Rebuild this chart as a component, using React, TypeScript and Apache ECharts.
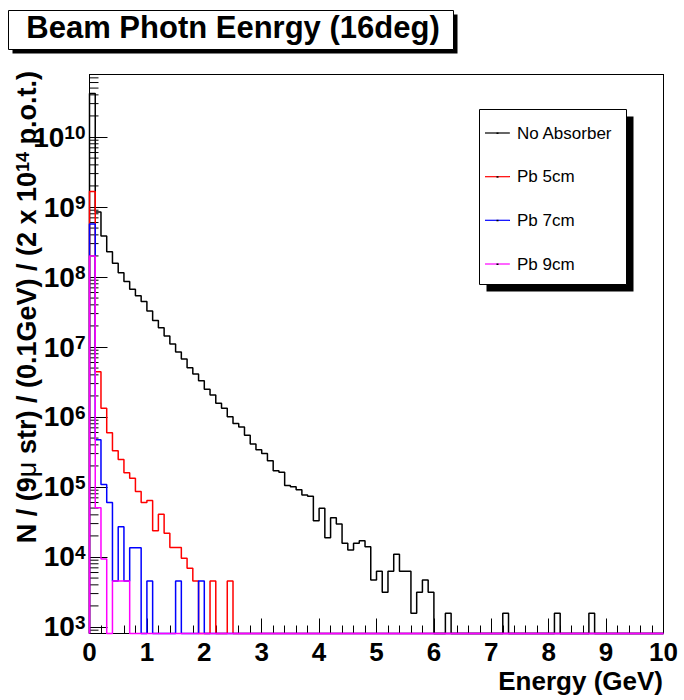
import React, { useEffect, useRef } from "react";
import * as echarts from "echarts";

const BIN_WIDTH = 0.1;
const N_BINS = 100;

const noAbsorber: number[] = [
  4.2e10, 8.5e8, 3.85e8, 2.3e8, 1.57e8, 1.15e8, 8.6e7, 6.7e7, 5.4e7, 4.45e7,
  3.27e7, 2.4e7, 1.89e7, 1.44e7, 1.1e7, 8.5e6, 6.75e6, 5.06e6, 4.1e6, 3.3e6,
  2.49e6, 2.06e6, 1.57e6, 1.33e6, 1.01e6, 8.1e5, 7.2e5, 5.5e5, 4.1e5, 3.4e5,
  3.0e5, 2.38e5, 1.71e5, 1.62e5, 1.05e5, 1.01e5, 9.1e4, 7.7e4, 7.4e4, 3.3e4,
  4.97e4, 1.89e4, 3.64e4, 2.96e4, 1.57e4, 1.26e4, 1.57e4, 1.71e4, 1.4e4, 4.7e3,
  6.24e3, 3.13e3, 6.24e3, 1.09e4, 6.24e3, 6.24e3, 1.57e3, 3.13e3, 4.7e3, 3.13e3,
  0, 0, 1.57e3, 0, 0, 0, 0, 0, 0, 0,
  0, 0, 1.57e3, 0, 0, 0, 0, 0, 0, 0,
  0, 1.57e3, 0, 0, 0, 0, 0, 1.57e3,
];

const pb5cm: number[] = [
  1.66e9, 4.44e6, 1.33e6, 5.97e5, 3.3e5, 2.48e5, 1.6e5, 1.33e5, 8.6e4, 6.0e4,
  6.4e4, 2.38e4, 4.07e4, 2.18e4, 1.37e4, 1.37e4, 9.6e3, 6.9e3, 4.54e3, 0,
  0, 4.54e3, 0, 0, 4.54e3,
];

const pb7cm: number[] = [
  5.7e8, 4.73e5, 1.09e5, 6.0e4, 4.54e3, 2.71e4, 4.54e3, 1.36e4, 1.36e4, 0,
  4.54e3, 0, 0, 0, 0, 4.54e3, 0, 0, 0, 4.54e3,
];

const pb9cm: number[] = [2.0e8, 5.07e4, 9.35e3, 0, 4.54e3, 4.54e3, 4.54e3];

const seriesNames = ["No Absorber", "Pb 5cm", "Pb 7cm", "Pb 9cm"];
const seriesColors = ["#000000", "#ff0000", "#0000ff", "#ff00ff"];
const seriesData = [noAbsorber, pb5cm, pb7cm, pb9cm];

const xTickValues = [0, 1, 2, 3, 4, 5, 6, 7, 8, 9, 10];

const Y_MIN = Math.pow(10, 2.907);
const Y_MAX = Math.pow(10, 10.893);

const FONT = "'Liberation Sans', Arial, Helvetica, sans-serif";

function stepPoints(values: number[]): [number, number][] {
  const pts: [number, number][] = [[0, Y_MIN]];
  for (let i = 0; i < N_BINS; i++) {
    const v = values[i] && values[i] > 0 ? values[i] : Y_MIN;
    const lo = Math.round(i * BIN_WIDTH * 10) / 10;
    const hi = Math.round((i + 1) * BIN_WIDTH * 10) / 10;
    pts.push([lo, v]);
    pts.push([hi, v]);
  }
  pts.push([N_BINS * BIN_WIDTH, Y_MIN]);
  return pts;
}

export default function App() {
  const ref = useRef<HTMLDivElement>(null);

  useEffect(() => {
    if (!ref.current) return;
    const chart = echarts.init(ref.current, undefined, { renderer: "svg" });

    const gridLeft = 89.5;
    const gridTop = 74.5;
    const gridRight = 684 - 663.5;
    const gridBottom = 700 - 633.5;

    const frameLine = { show: true, onZero: false, lineStyle: { color: "#000", width: 1 } };

    chart.setOption({
      animation: false,
      backgroundColor: "#ffffff",
      textStyle: { fontFamily: FONT },
      grid: {
        left: gridLeft,
        top: gridTop,
        right: gridRight,
        bottom: gridBottom,
        show: false,
        containLabel: false,
      },
      xAxis: [
        {
          type: "value",
          position: "bottom",
          z: 1,
          min: xTickValues[0],
          max: xTickValues[xTickValues.length - 1],
          interval: 1,
          axisLine: frameLine,
          axisTick: { show: true, inside: true, length: 15, lineStyle: { color: "#000" } },
          minorTick: { show: true, splitNumber: 5, length: 8, lineStyle: { color: "#000" } },
          splitLine: { show: false },
          axisLabel: {
            show: true,
            margin: 5,
            color: "#000",
            fontSize: 26,
            fontWeight: "bold",
            fontFamily: FONT,
            showMinLabel: true,
            showMaxLabel: true,
          },
        },
        {
          type: "value",
          position: "top",
          z: 1,
          min: xTickValues[0],
          max: xTickValues[xTickValues.length - 1],
          axisLine: frameLine,
          axisTick: { show: false },
          axisLabel: { show: false },
          splitLine: { show: false },
        },
      ],
      yAxis: [
        {
          type: "log",
          position: "left",
          z: 1,
          logBase: 10,
          min: Y_MIN,
          max: Y_MAX,
          splitNumber: 8,
          axisLine: frameLine,
          axisTick: { show: true, inside: true, length: 18, lineStyle: { color: "#000" } },
          splitLine: { show: false },
          axisLabel: {
            show: true,
            margin: 4,
            showMinLabel: false,
            showMaxLabel: false,
            formatter: (v: number) => {
              const e = Math.round(Math.log10(v));
              return `{b|10}{s|${e}}`;
            },
            rich: {
              b: { fontSize: 28, fontWeight: "bold", fontFamily: FONT, color: "#000", lineHeight: 28, verticalAlign: "bottom" },
              s: { fontSize: 19, fontWeight: "bold", fontFamily: FONT, color: "#000", lineHeight: 19, verticalAlign: "top", padding: [0, 0, 14, 0] },
            },
          },
        },
        {
          type: "log",
          position: "right",
          z: 1,
          logBase: 10,
          min: Y_MIN,
          max: Y_MAX,
          axisLine: frameLine,
          axisTick: { show: false },
          axisLabel: { show: false },
          splitLine: { show: false },
        },
      ],
      series: seriesData.map((d, i) => ({
        name: seriesNames[i],
        type: "line",
        xAxisIndex: 0,
        yAxisIndex: 0,
        data: stepPoints(d),
        showSymbol: false,
        symbol: "none",
        clip: false,
        lineStyle: { color: seriesColors[i], width: 1.5 },
        itemStyle: { color: seriesColors[i] },
        z: 10 + i,
      })),
    });

    const minorTicks: any[] = [];
    for (let d = 2; d <= 10; d++) {
      for (let k = 2; k <= 9; k++) {
        const v = k * Math.pow(10, d);
        if (v <= Y_MIN || v >= Y_MAX) continue;
        const py = chart.convertToPixel({ yAxisIndex: 0 }, v) as number;
        minorTicks.push({
          type: "line",
          silent: true,
          shape: { x1: gridLeft, y1: py, x2: gridLeft + 9, y2: py },
          style: { stroke: "#000", lineWidth: 1 },
          z: 5,
        });
      }
    }

    const legendRowY = [133, 176.7, 220.3, 264];
    const legendItems: any[] = [];
    seriesNames.forEach((name, i) => {
      legendItems.push({
        type: "line",
        shape: { x1: 485, y1: legendRowY[i], x2: 510, y2: legendRowY[i] },
        style: { stroke: seriesColors[i], lineWidth: 1.2 },
        z: 22,
      });
      legendItems.push({
        type: "rect",
        shape: { x: 496.5, y: legendRowY[i] - 0.5, width: 2, height: 1.5 },
        style: { fill: "#000" },
        z: 23,
      });
      legendItems.push({
        type: "text",
        x: 517,
        y: legendRowY[i],
        style: { text: name, fontSize: 17, fontFamily: FONT, fill: "#000", align: "left", verticalAlign: "middle" },
        z: 22,
      });
    });

    chart.setOption({
      graphic: [
        { type: "rect", shape: { x: 12.5, y: 14.5, width: 445, height: 39 }, style: { fill: "#000" }, z: 20 },
        { type: "rect", shape: { x: 8.5, y: 10.5, width: 445, height: 39 }, style: { fill: "#fff", stroke: "#000", lineWidth: 1 }, z: 21 },
        {
          type: "text",
          x: 233,
          y: 27,
          style: { text: "Beam Photn Eenrgy (16deg)", fontSize: 31, fontWeight: "bold", fontFamily: FONT, fill: "#000", align: "center", verticalAlign: "middle" },
          z: 22,
        },
        { type: "rect", shape: { x: 486.5, y: 116.5, width: 147, height: 175 }, style: { fill: "#000" }, z: 20 },
        { type: "rect", shape: { x: 479.5, y: 109.5, width: 147, height: 175 }, style: { fill: "#fff", stroke: "#000", lineWidth: 1 }, z: 21 },
        ...legendItems,
        {
          type: "text",
          x: 27,
          y: 71,
          rotation: Math.PI / 2,
          style: {
            text: "{t|N / (9}{m|μ}{t| str) / (0.1GeV) / (2 x 10}{s|14}{t| p.o.t.)}",
            align: "right",
            verticalAlign: "middle",
            rich: {
              t: { fontSize: 27, fontWeight: "bold", fontFamily: FONT, fill: "#000", lineHeight: 27, verticalAlign: "bottom" },
              m: { fontSize: 27, fontWeight: "normal", fontFamily: FONT, fill: "#000", lineHeight: 27, verticalAlign: "bottom" },
              s: { fontSize: 18, fontWeight: "bold", fontFamily: FONT, fill: "#000", lineHeight: 18, verticalAlign: "top", padding: [0, 0, 14, 0] },
            },
          },
          z: 22,
        },
        {
          type: "text",
          x: 663,
          y: 681,
          style: { text: "Energy (GeV)", fontSize: 26, fontWeight: "bold", fontFamily: FONT, fill: "#000", align: "right", verticalAlign: "middle" },
          z: 22,
        },
        ...minorTicks,
      ],
    });

    return () => {
      chart.dispose();
    };
  }, []);

  return (
    <div ref={ref} style={{ position: "fixed", left: 0, top: 0, width: 684, height: 700, background: "#fff" }} />
  );
}
